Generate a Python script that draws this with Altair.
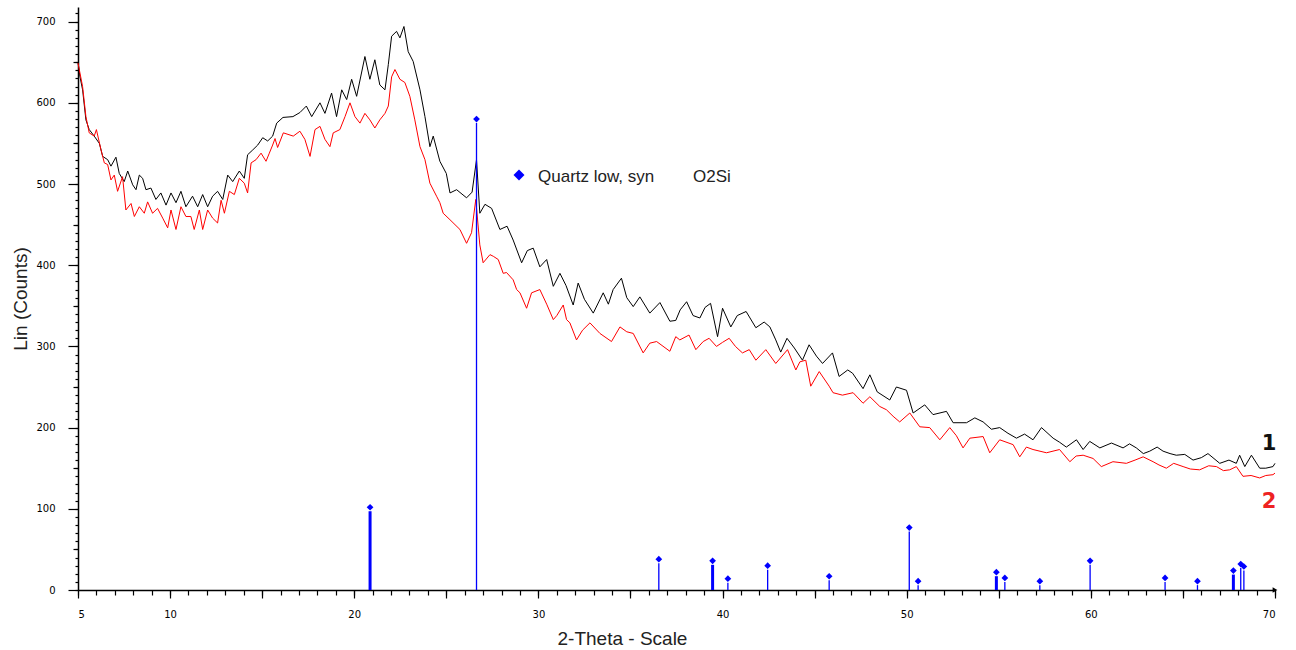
import altair as alt
import pandas as pd

# ---- Curve 1 (black) ----
black_x = [5.0, 5.1, 5.25, 5.43, 5.61, 5.88, 6.16, 6.34, 6.61, 6.79, 7.06, 7.24, 7.51, 7.7, 7.97, 8.15, 8.33, 8.51,
           8.69, 8.96, 9.23, 9.5, 9.78, 10.05, 10.32, 10.59, 10.86, 11.22, 11.5, 11.77, 12.04, 12.31, 12.58, 12.86,
           13.13, 13.4, 13.76, 14.03, 14.21, 14.49, 14.76, 15.03, 15.3, 15.57, 15.79, 16.13, 16.67, 17.05, 17.4,
           17.69, 18.14, 18.41, 18.77, 19.04, 19.32, 19.59, 19.86, 20.13, 20.58, 20.85, 21.12, 21.39, 21.67, 21.85,
           22.03, 22.3, 22.48, 22.7, 22.93, 23.2, 23.57, 23.84, 24.11, 24.29, 24.65, 25.0, 25.2, 25.56, 26.1, 26.4,
           26.64, 26.82, 27.1, 27.46, 27.91, 28.3, 28.63, 29.09, 29.4, 29.72, 30.08, 30.45, 30.81, 31.17, 31.5,
           31.89, 32.16, 32.5, 32.98, 33.52, 33.8, 34.06, 34.51, 34.8, 35.15, 35.51, 36.05, 36.6, 37.14, 37.46,
           37.7, 38.05, 38.4, 38.77, 39.05, 39.35, 39.73, 40.0, 40.45, 40.8, 41.28, 41.81, 42.26, 42.57, 42.89,
           43.16, 43.5, 43.9, 44.34, 44.7, 45.1, 45.43, 45.97, 46.33, 46.8, 47.06, 47.63, 48.0, 48.4, 49.08, 49.44,
           49.99, 50.35, 50.98, 51.43, 52.16, 52.52, 53.25, 53.7, 54.15, 54.6, 55.05, 55.5, 55.96, 56.4, 56.86,
           57.32, 57.95, 58.3, 58.67, 59.22, 59.58, 59.94, 60.49, 61.12, 61.75, 62.1, 62.47, 62.85, 63.2, 63.6,
           63.92, 64.3, 64.64, 65.1, 65.55, 66.0, 66.36, 67.0, 67.5, 67.9, 68.08, 68.36, 68.72, 69.17, 69.5, 69.89,
           70.0]
black_y = [650, 633, 616, 579, 567, 559, 550, 534, 530, 522, 533, 513, 503, 516, 499, 493, 511, 507,
           493, 495, 481, 489, 474, 489, 477, 491, 472, 485, 472, 487, 472, 485, 491, 481,
           511, 503, 516, 507, 536, 542, 548, 557, 553, 559, 575, 582, 583, 588, 596,
           583, 600, 587, 612, 583, 616, 604, 629, 608, 657, 629, 653, 622, 616, 647,
           682, 688, 680, 694, 663, 651, 616, 583, 546, 559, 528, 513, 489, 493, 483, 490,
           530, 464, 475, 470, 444, 448, 431, 403, 418, 421, 398, 407, 374, 390, 375,
           351, 378, 358, 341, 366, 352, 370, 384, 360, 349, 361, 341, 354, 331, 332,
           345, 355, 338, 335, 348, 353, 312, 347, 324, 338, 343, 323, 330, 324, 308,
           293, 310, 298, 283, 302, 288, 279, 292, 263, 271, 267, 248, 265, 244, 234, 250,
           246, 218, 228, 216, 220, 206, 206, 212, 207, 198, 200, 193, 187, 192, 185,
           200, 187, 182, 176, 185, 173, 183, 175, 181, 175, 180, 175, 168, 171, 176,
           171, 168, 166, 167, 160, 163, 168, 156, 160, 156, 166, 152, 166, 150, 150, 152,
           156]

# ---- Curve 2 (red) ----
red_x = [5.0, 5.25, 5.43, 5.61, 5.88, 6.0, 6.25, 6.43, 6.61, 6.79, 6.97, 7.15, 7.42, 7.6, 7.88, 8.06, 8.33, 8.6,
         8.78, 9.05, 9.32, 9.6, 9.87, 10.05, 10.32, 10.59, 10.86, 11.13, 11.31, 11.59, 11.77, 12.04, 12.31, 12.58,
         12.77, 12.95, 13.22, 13.49, 13.76, 14.03, 14.21, 14.4, 14.67, 14.94, 15.21, 15.39, 15.57, 15.7, 15.84,
         16.15, 16.69, 17.05, 17.32, 17.6, 17.87, 18.14, 18.41, 18.68, 18.86, 19.22, 19.5, 19.77, 20.04, 20.31,
         20.58, 20.85, 21.12, 21.39, 21.67, 21.85, 22.03, 22.21, 22.48, 22.75, 23.02, 23.29, 23.57, 23.84, 24.11,
         24.47, 24.65, 24.83, 25.2, 25.74, 26.1, 26.37, 26.6, 26.82, 27.0, 27.37, 27.55, 27.82, 28.09, 28.27,
         28.63, 28.82, 29.0, 29.36, 29.63, 30.08, 30.45, 30.81, 31.0, 31.35, 31.53, 31.71, 32.07, 32.4, 32.8,
         33.34, 33.97, 34.43, 34.8, 35.15, 35.69, 36.05, 36.42, 37.14, 37.46, 37.68, 38.18, 38.55, 38.95, 39.27,
         39.67, 40.0, 40.36, 40.7, 41.08, 41.45, 41.81, 42.35, 42.89, 43.53, 43.98, 44.2, 44.52, 44.79, 45.25,
         45.79, 46.0, 46.51, 47.09, 47.63, 48.0, 48.54, 48.9, 49.26, 49.62, 50.17, 50.71, 51.25, 51.8, 52.34,
         52.7, 53.06, 53.43, 54.15, 54.51, 55.05, 55.78, 56.14, 56.5, 56.86, 57.59, 58.3, 58.86, 59.2, 59.58,
         60.12, 60.57, 61.2, 61.93, 62.4, 62.84, 63.38, 63.7, 64.1, 64.5, 65.01, 65.4, 65.91, 66.4, 66.82, 67.2,
         67.54, 67.9, 68.26, 68.7, 69.17, 69.5, 69.89, 70.0]
red_y = [649, 620, 583, 563, 559, 567, 542, 526, 524, 505, 511, 491, 509, 468, 476, 460, 472, 464,
         478, 464, 470, 458, 446, 468, 444, 472, 460, 460, 444, 468, 444, 468, 458, 452,
         480, 464, 491, 487, 507, 501, 489, 526, 530, 538, 528, 538, 548, 556, 545,
         563, 559, 565, 555, 534, 567, 571, 555, 546, 563, 567, 583, 600, 583, 575,
         587, 579, 569, 579, 587, 596, 632, 641, 629, 625, 608, 579, 546, 530, 501,
         485, 477, 464, 456, 444, 427, 440, 481, 425, 403, 413, 411, 407, 390, 391,
         382, 370, 366, 347, 366, 370, 352, 333, 338, 351, 333, 329, 308, 320, 329,
         316, 306, 324, 318, 316, 292, 304, 306, 294, 312, 308, 314, 296, 306, 310,
         300, 305, 310, 300, 292, 296, 283, 296, 279, 296, 271, 281, 283, 251, 269,
         251, 243, 240, 243, 230, 238, 226, 222, 214, 207, 218, 201, 200, 185, 200,
         190, 175, 187, 189, 169, 185, 179, 164, 176, 173, 169, 173, 158, 165, 166,
         162, 152, 158, 156, 160, 164, 158, 154, 150, 156, 152, 149, 148, 153, 152, 147,
         148, 152, 140, 141, 138, 141, 142, 144]

# ---- Quartz reference sticks ----
stick_x = [20.86, 26.64, 36.54, 39.46, 40.29, 42.45, 45.79, 50.14, 50.62, 54.87, 55.33, 57.23,
           59.96, 64.03, 65.79, 67.74, 68.14, 68.31]
stick_h = [97, 575, 33, 31, 9, 25, 12, 72, 6, 17, 10, 6, 31, 10, 6, 19, 27, 24]
thick_sticks = [20.86, 39.46, 54.87, 67.74]

legend_phase = "Quartz low, syn"
legend_formula = "O2Si"
curve_labels = ["1", "2"]

x_ticks_minor = list(range(5, 71))
x_ticks_major = list(range(5, 71, 5))
x_labels = [5, 10, 20, 30, 40, 50, 60, 70]
y_ticks_minor = list(range(0, 711, 10))
y_ticks_mid = list(range(50, 700, 100))
y_ticks_major = list(range(0, 701, 100))

df_black = pd.DataFrame({"x": black_x, "y": black_y})
df_red = pd.DataFrame({"x": red_x, "y": red_y})
df_stick = pd.DataFrame({"x": stick_x, "h": stick_h})

xs = alt.Scale(domain=[5, 70], nice=False, zero=False)
ys = alt.Scale(domain=[0, 718], nice=False, zero=False)

lab_list = "[" + ",".join(str(v) for v in x_labels) + "]"

black = alt.Chart(df_black).mark_line(color="#000000", strokeWidth=1).encode(
    x=alt.X("x:Q", scale=xs, axis=alt.Axis(
        orient="bottom", values=x_ticks_minor, tickSize=5, labelPadding=14, grid=False,
        labelExpr=f"indexof({lab_list}, datum.value) >= 0 ? datum.label : ''",
        labelOverlap=False, domain=True, title="2-Theta - Scale",
        titleX=544, titleY=54, titleAlign="center", titleBaseline="alphabetic")),
    y=alt.Y("y:Q", scale=ys, axis=alt.Axis(
        orient="left", values=y_ticks_minor, tickSize=3, labels=False, domain=False,
        grid=False, title=None)),
)

red = alt.Chart(df_red).mark_line(color="#ff0000", strokeWidth=1).encode(
    x=alt.X("x:Q", scale=xs, axis=alt.Axis(
        orient="bottom", values=x_ticks_major, tickSize=8, labels=False, domain=False,
        grid=False, title=None)),
    y=alt.Y("y:Q", scale=ys, axis=alt.Axis(
        orient="left", values=y_ticks_mid, tickSize=5, labels=False, domain=False,
        grid=False, title=None)),
)

sticks = alt.Chart(df_stick).mark_rule(color="#0000ff").encode(
    x=alt.X("x:Q", scale=xs, axis=None),
    y=alt.Y("h:Q", scale=ys, axis=alt.Axis(
        orient="left", values=y_ticks_major, tickSize=10, labelPadding=13, grid=False,
        domain=True, title="Lin (Counts)", titleX=-52, titleBaseline="alphabetic")),
    y2=alt.datum(0),
    strokeWidth=alt.condition(alt.FieldOneOfPredicate(field="x", oneOf=thick_sticks),
                              alt.value(3), alt.value(1.3)),
)

diamonds = alt.Chart(df_stick).mark_point(shape="diamond", filled=True, color="#0000ff",
                                          size=45, yOffset=-4, opacity=1).encode(
    x=alt.X("x:Q", scale=xs, axis=None),
    y=alt.Y("h:Q", scale=ys, axis=None),
)

arrow = alt.Chart(pd.DataFrame({"a": [0]})).mark_point(
    shape="triangle-right", filled=True, color="#000000", size=30, opacity=1).encode(
    x=alt.datum(70, scale=xs, axis=None) if False else alt.X("xv:Q", scale=xs, axis=None),
    y=alt.Y("yv:Q", scale=ys, axis=None),
).transform_calculate(xv="70", yv="0")

leg_df = pd.DataFrame({"phase": [legend_phase], "formula": [legend_formula]})
leg_sym = alt.Chart(leg_df).mark_point(shape="diamond", filled=True, color="#0000ff",
                                       size=120, opacity=1).encode(
    x=alt.value(441), y=alt.value(168))
leg_txt = alt.Chart(leg_df).mark_text(align="left", baseline="alphabetic", font="Liberation Sans",
                                      fontSize=17, color="#222222").encode(
    x=alt.value(460), y=alt.value(174.5), text="phase:N")
leg_txt2 = alt.Chart(leg_df).mark_text(align="left", baseline="alphabetic", font="Liberation Sans",
                                       fontSize=17, color="#222222").encode(
    x=alt.value(615), y=alt.value(174.5), text="formula:N")

lab_df = pd.DataFrame({"t": curve_labels})
lab1 = alt.Chart(lab_df).transform_filter("datum.t == '1'").mark_text(
    font="DejaVu Sans", fontSize=21, fontWeight="bold", color="#111111",
    align="center", baseline="middle").encode(x=alt.value(1191), y=alt.value(437), text="t:N")
lab2 = alt.Chart(lab_df).transform_filter("datum.t == '2'").mark_text(
    font="DejaVu Sans", fontSize=21, fontWeight="bold", color="#ee2222",
    align="center", baseline="middle").encode(x=alt.value(1191), y=alt.value(495), text="t:N")

chart = alt.layer(black, red, sticks, diamonds, arrow, leg_sym, leg_txt, leg_txt2, lab1, lab2).resolve_axis(
    x="independent", y="independent"
).properties(
    width=1197, height=583, autosize="none",
    padding={"left": 78, "top": 7, "right": 21, "bottom": 60},
).configure_view(stroke=None).configure_axis(
    labelFont="DejaVu Sans", labelFontSize=10, labelColor="#000000",
    tickColor="#000000", domainColor="#000000", tickWidth=1.2, domainWidth=1.5,
    titleFont="Liberation Sans", titleFontSize=19, titleFontWeight="normal", titleColor="#222222",
)

chart.save("out.html", embed_options={"renderer": "svg", "actions": False})
